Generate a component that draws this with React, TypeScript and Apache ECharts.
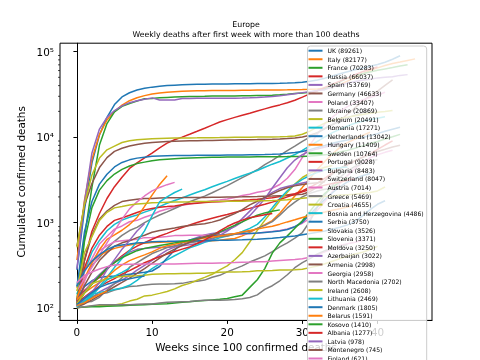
import React, { useEffect, useRef } from 'react';
import * as echarts from 'echarts';

const countryNames = [
  'UK', 'Italy', 'France', 'Russia', 'Spain', 'Germany', 'Poland', 'Ukraine', 'Belgium', 'Romania',
  'Netherlands', 'Hungary', 'Sweden', 'Portugal', 'Bulgaria', 'Switzerland', 'Austria', 'Greece', 'Croatia',
  'Bosnia and Herzegovina', 'Serbia', 'Slovakia', 'Slovenia', 'Moldova', 'Azerbaijan', 'Armenia', 'Georgia',
  'North Macedonia', 'Ireland', 'Lithuania', 'Denmark', 'Belarus', 'Kosovo', 'Albania', 'Latvia', 'Montenegro',
  'Finland', 'Luxembourg', 'Norway', 'Estonia', 'Malta', 'Cyprus',
];

// cumulative deaths, one value per week since the first week with more than 100 deaths
const UK = [281, 1400, 5000, 10600, 17000, 24000, 29500, 33000, 35500, 37200, 38400, 39300, 40000, 40500, 40900, 41200, 41400, 41550, 41650, 41750, 41850, 41950, 42050, 42150, 42250, 42350, 42450, 42600, 42850, 43250, 43900, 44900, 46600, 48900, 51900, 55000, 58000, 61200, 64100, 67400, 70800, 75000, 81400, 89261];
const Italy = [366, 1809, 5476, 10779, 15887, 19899, 23660, 26644, 28884, 30560, 31908, 32785, 33415, 33899, 34345, 34634, 34738, 34861, 34954, 35045, 35107, 35154, 35205, 35234, 35437, 35483, 35541, 35610, 35692, 35818, 35986, 36205, 36543, 37338, 38618, 41063, 45229, 49823, 54904, 60078, 64520, 68799, 72370, 75332, 78755, 82177];
const France = [127, 674, 2606, 8078, 14393, 19718, 22856, 24760, 26380, 28108, 28367, 28802, 29142, 29407, 29640, 29778, 29893, 30004, 30155, 30226, 30296, 30324, 30410, 30503, 30602, 30724, 30916, 31249, 31727, 32299, 32825, 33477, 35018, 37019, 40439, 44548, 48732, 52127, 55155, 57761, 60418, 62746, 65037, 67750, 70283];
const Russia = [106, 361, 794, 1280, 1915, 2631, 3388, 4300, 5000, 5700, 6500, 7500, 8500, 9300, 10000, 10800, 11700, 12700, 13800, 15000, 16000, 17000, 18000, 19000, 20200, 21400, 22600, 23800, 25200, 27000, 29300, 32000, 34850, 38100, 41600, 45100, 49000, 53700, 58000, 62000, 66037];
const Spain = [288, 1720, 6528, 12418, 16972, 20453, 23190, 25264, 26621, 27650, 28752, 27121, 27136, 27136, 28315, 28338, 28385, 28403, 28420, 28432, 28472, 28503, 28617, 28813, 29094, 29418, 29848, 30495, 31232, 32225, 33124, 33992, 35031, 35878, 38833, 40769, 42619, 44668, 46252, 47624, 49260, 50122, 50837, 52683, 53769];
const Germany = [533, 1584, 2871, 4404, 5750, 6812, 7417, 7881, 8216, 8500, 8668, 8781, 8882, 8961, 9010, 9064, 9086, 9118, 9148, 9183, 9226, 9254, 9289, 9325, 9350, 9386, 9457, 9534, 9621, 9777, 10056, 10530, 11289, 12547, 14022, 15586, 18517, 21975, 26275, 30126, 34574, 40343, 46633];
const Poland = [107, 263, 380, 562, 689, 839, 915, 1024, 1064, 1157, 1237, 1359, 1444, 1521, 1594, 1651, 1709, 1744, 1807, 1844, 1893, 1971, 2077, 2152, 2271, 2351, 2524, 2792, 3308, 4172, 5783, 8045, 10847, 14314, 17150, 20089, 22676, 25254, 27147, 28956, 31011, 33407];
const Ukraine = [125, 220, 316, 391, 497, 605, 710, 808, 880, 1002, 1116, 1228, 1338, 1463, 1610, 1753, 1898, 2043, 2237, 2467, 2710, 3016, 3358, 3718, 4150, 4756, 5349, 6108, 6966, 7857, 8912, 9972, 11215, 12680, 14064, 15396, 16790, 18028, 19337, 20869];
const Belgium = [513, 1632, 3600, 5683, 7094, 7844, 8656, 9080, 9312, 9467, 9595, 9661, 9696, 9732, 9771, 9792, 9800, 9821, 9845, 9866, 9899, 9937, 9969, 9976, 9996, 10007, 10031, 10064, 10155, 10327, 10810, 11737, 13201, 14601, 15687, 16551, 17122, 17820, 18429, 19026, 19528, 19987, 20491];
const Romania = [146, 270, 451, 619, 803, 956, 1070, 1156, 1229, 1326, 1419, 1539, 1687, 1817, 1944, 2101, 2269, 2426, 2626, 2834, 3038, 3288, 3541, 3796, 4070, 4436, 4825, 5181, 5693, 6253, 7000, 7893, 8917, 10047, 11267, 12339, 13465, 14510, 15351, 15962, 16642, 17271];
const Netherlands = [179, 771, 1766, 2823, 3684, 4475, 5056, 5422, 5680, 5830, 5956, 6013, 6065, 6090, 6105, 6113, 6132, 6145, 6147, 6149, 6164, 6174, 6196, 6216, 6232, 6262, 6297, 6362, 6466, 6602, 6798, 7139, 7577, 7994, 8485, 8893, 9235, 9595, 9939, 10395, 10989, 11687, 12360, 13042];
const Hungary = [172, 291, 351, 413, 462, 500, 526, 548, 565, 575, 585, 591, 595, 596, 596, 597, 600, 605, 613, 621, 641, 652, 700, 769, 858, 950, 1058, 1290, 1635, 2051, 2583, 3287, 4201, 5213, 6336, 7586, 8634, 9496, 10479, 11409];
const Sweden = [110, 600, 1500, 2400, 3100, 3700, 4200, 4600, 4900, 5100, 5300, 5420, 5520, 5600, 5660, 5710, 5750, 5780, 5800, 5820, 5835, 5850, 5860, 5870, 5880, 5890, 5900, 5910, 5920, 5935, 5950, 6000, 6080, 6200, 6400, 6700, 7000, 7400, 7900, 8400, 8900, 9500, 10100, 10764];
const Portugal = [119, 295, 504, 714, 903, 1063, 1135, 1218, 1316, 1410, 1465, 1517, 1540, 1568, 1614, 1662, 1689, 1717, 1738, 1756, 1784, 1810, 1827, 1846, 1875, 1912, 1953, 2018, 2101, 2181, 2343, 2590, 2896, 3305, 3824, 4276, 4724, 5278, 5815, 6343, 7196, 8080, 9028];
const Bulgaria = [108, 120, 133, 155, 172, 194, 213, 241, 278, 317, 363, 421, 477, 517, 580, 623, 671, 716, 747, 766, 821, 897, 1019, 1207, 1502, 1899, 2542, 3349, 4380, 5391, 6231, 6867, 7281, 7643, 8038, 8483];
const Switzerland = [120, 359, 715, 1106, 1368, 1589, 1762, 1830, 1881, 1909, 1920, 1938, 1956, 1960, 1962, 1965, 1968, 1969, 1978, 1981, 1989, 1994, 2002, 2011, 2021, 2037, 2048, 2065, 2083, 2112, 2152, 2300, 2600, 3100, 3700, 4300, 4800, 5300, 5800, 6300, 6800, 7200, 7650, 8047];
const Austria = [108, 204, 337, 470, 536, 598, 615, 628, 640, 668, 672, 677, 688, 705, 706, 710, 711, 713, 718, 719, 726, 733, 733, 744, 752, 772, 790, 807, 841, 897, 985, 1125, 1398, 1765, 2300, 2885, 3548, 4314, 5004, 5734, 6222, 6636, 7014];
const Greece = [105, 116, 136, 146, 151, 163, 171, 179, 182, 187, 190, 192, 192, 193, 195, 203, 206, 213, 230, 242, 266, 288, 312, 346, 376, 409, 458, 520, 581, 658, 766, 1035, 1527, 2102, 2743, 3370, 4034, 4540, 4921, 5222, 5469];
const Croatia = [101, 103, 106, 107, 107, 109, 113, 121, 127, 139, 142, 149, 157, 168, 184, 195, 212, 229, 249, 281, 312, 368, 446, 594, 813, 1063, 1379, 1801, 2273, 2821, 3373, 3792, 4136, 4433, 4655];
const Bosnia = [102, 128, 145, 153, 158, 165, 172, 185, 211, 250, 290, 329, 367, 410, 456, 507, 545, 589, 623, 664, 696, 734, 787, 858, 954, 1166, 1490, 1918, 2358, 2808, 3203, 3560, 3866, 4118, 4279, 4386, 4486];
const Serbia = [125, 179, 209, 228, 234, 238, 243, 250, 256, 263, 272, 307, 385, 476, 585, 628, 654, 676, 699, 714, 729, 741, 744, 746, 756, 768, 780, 800, 830, 896, 1010, 1250, 1530, 1877, 2236, 2626, 2990, 3295, 3540, 3750];
const Slovakia = [132, 222, 339, 482, 638, 720, 815, 950, 1150, 1550, 2100, 2800, 3526];
const Slovenia = [102, 103, 104, 104, 105, 106, 107, 108, 109, 110, 111, 112, 113, 115, 117, 119, 121, 123, 125, 127, 130, 136, 142, 175, 215, 290, 440, 580, 700, 860, 1050, 1350, 1750, 2200, 2600, 3000, 3371];
const Moldova = [125, 161, 194, 231, 285, 346, 410, 473, 532, 584, 640, 699, 749, 813, 877, 937, 1003, 1067, 1128, 1186, 1248, 1317, 1388, 1469, 1552, 1637, 1738, 1856, 2002, 2144, 2290, 2446, 2603, 2745, 2874, 2994, 3126, 3250];
const Azerbaijan = [126, 154, 203, 247, 298, 344, 399, 452, 487, 497, 510, 515, 517, 521, 537, 552, 570, 602, 641, 709, 795, 925, 1114, 1364, 1664, 1981, 2259, 2502, 2652, 2769, 2910, 3022];
const Armenia = [113, 183, 264, 360, 443, 530, 581, 613, 668, 711, 772, 807, 838, 866, 899, 925, 950, 972, 1014, 1073, 1173, 1276, 1419, 1614, 1778, 1970, 2173, 2377, 2553, 2690, 2797, 2862, 2934, 2998];
const Georgia = [160, 220, 300, 420, 580, 800, 1100, 1450, 1750, 2050, 2350, 2580, 2780, 2958];
const NorthMacedonia = [103, 118, 120, 134, 163, 193, 226, 301, 340, 386, 435, 471, 512, 537, 557, 581, 603, 623, 659, 683, 698, 732, 765, 795, 858, 929, 1027, 1225, 1485, 1736, 2001, 2197, 2343, 2462, 2554, 2630, 2702];
const Ireland = [158, 444, 687, 1063, 1319, 1488, 1543, 1606, 1650, 1679, 1707, 1714, 1736, 1742, 1746, 1753, 1763, 1763, 1772, 1774, 1777, 1777, 1781, 1792, 1797, 1804, 1810, 1830, 1852, 1885, 1922, 1965, 1990, 2022, 2050, 2099, 2124, 2149, 2200, 2252, 2347, 2608];
const Lithuania = [105, 120, 145, 180, 230, 300, 380, 470, 600, 800, 1200, 1750, 2000, 2250, 2469];
const Denmark = [179, 273, 355, 422, 484, 529, 548, 563, 580, 587, 597, 603, 604, 606, 610, 611, 613, 615, 617, 621, 623, 626, 629, 635, 640, 650, 659, 670, 685, 699, 723, 747, 772, 798, 835, 885, 941, 1036, 1200, 1420, 1640, 1805];
const Belarus = [126, 151, 175, 199, 229, 276, 320, 360, 390, 420, 455, 500, 538, 560, 585, 610, 635, 660, 680, 700, 720, 745, 780, 810, 840, 875, 907, 960, 1020, 1080, 1150, 1210, 1270, 1330, 1395, 1450, 1520, 1591];
const Kosovo = [110, 150, 190, 240, 290, 340, 390, 430, 470, 500, 520, 540, 560, 580, 600, 620, 650, 680, 720, 780, 850, 930, 1020, 1120, 1220, 1300, 1360, 1410];
const Albania = [115, 135, 157, 180, 200, 222, 250, 275, 305, 340, 370, 400, 430, 460, 490, 520, 570, 630, 700, 800, 900, 990, 1070, 1140, 1190, 1240, 1277];
const Latvia = [105, 130, 155, 200, 280, 370, 490, 620, 800, 978];
const Montenegro = [104, 112, 125, 140, 158, 178, 200, 225, 255, 290, 335, 385, 440, 490, 540, 590, 640, 685, 720, 745];
const Finland = [199, 240, 265, 287, 306, 320, 324, 326, 326, 328, 329, 329, 329, 329, 331, 333, 334, 335, 336, 338, 339, 341, 345, 346, 348, 350, 355, 360, 365, 370, 378, 395, 420, 455, 490, 540, 565, 590, 621];
const Luxembourg = [101, 104, 107, 110, 110, 110, 110, 110, 111, 112, 112, 115, 117, 118, 119, 120, 122, 124, 124, 124, 125, 126, 129, 133, 143, 166, 183, 209, 246, 297, 340, 380, 430, 470, 505, 530, 550];
const Norway = [113, 150, 194, 208, 219, 232, 235, 237, 239, 242, 249, 251, 252, 253, 255, 255, 256, 256, 260, 263, 264, 264, 266, 269, 273, 274, 276, 279, 280, 282, 285, 298, 312, 330, 353, 380, 404, 430, 451, 484, 530];
const Estonia = [104, 120, 140, 175, 214, 236, 262, 294];
const Malta = [110, 130, 152, 175, 190, 202, 213, 220, 230, 238];
const Cyprus = [107, 116, 130, 145, 158];

const seriesValues = [
  UK, Italy, France, Russia, Spain, Germany, Poland, Ukraine, Belgium, Romania,
  Netherlands, Hungary, Sweden, Portugal, Bulgaria, Switzerland, Austria, Greece, Croatia,
  Bosnia, Serbia, Slovakia, Slovenia, Moldova, Azerbaijan, Armenia, Georgia,
  NorthMacedonia, Ireland, Lithuania, Denmark, Belarus, Kosovo, Albania, Latvia, Montenegro,
  Finland, Luxembourg, Norway, Estonia, Malta, Cyprus,
];

const palette = ['#1f77b4', '#ff7f0e', '#2ca02c', '#d62728', '#9467bd', '#8c564b', '#e377c2', '#7f7f7f', '#bcbd22', '#17becf'];
const xTickValues = [0, 10, 20, 30, 40];
const yMinorTickValues = [80, 90, 200, 300, 400, 500, 600, 700, 800, 900, 2000, 3000, 4000, 5000, 6000, 7000, 8000, 9000, 20000, 30000, 40000, 50000, 60000, 70000, 80000, 90000];

const FONT = "'DejaVu Sans', sans-serif";

export default function App() {
  const ref = useRef<HTMLDivElement>(null);
  useEffect(() => {
    if (!ref.current) return;
    const chart = echarts.init(ref.current, undefined, { renderer: 'svg' });

    // axis limits with 5% margins (log on y)
    const maxWeek = Math.max(...seriesValues.map((s) => s.length - 1));
    const xMin = -0.05 * maxWeek;
    const xMax = maxWeek * 1.05;
    const all = seriesValues.flat();
    const lmin = Math.log10(Math.min(...all));
    const lmax = Math.log10(Math.max(...all));
    const lspan = lmax - lmin;
    const yMin = Math.pow(10, lmin - 0.05 * lspan);
    const yMax = Math.pow(10, lmax + 0.05 * lspan);

    const labels = countryNames.map((n, i) => `${n} (${seriesValues[i][seriesValues[i].length - 1]})`);
    const sup: Record<number, string> = { 1: '¹', 2: '²', 3: '³', 4: '⁴', 5: '⁵' };

    const lineSeries = seriesValues.map((vals, i) => ({
      name: labels[i],
      type: 'line',
      data: vals.map((v, w) => [w, v]),
      showSymbol: false,
      symbol: 'none',
      silent: true,
      color: palette[i % palette.length],
      lineStyle: { width: 1.5, color: palette[i % palette.length] },
      emphasis: { disabled: true },
    }));

    chart.setOption({
      animation: false,
      grid: { left: 60, right: 48, top: 43.2, bottom: 39.6, show: true, borderColor: '#000', borderWidth: 1 },
      graphic: [
        { type: 'text', x: 246, y: 24, style: { text: 'Europe', font: `7.8px ${FONT}`, fill: '#000', textAlign: 'center', textVerticalAlign: 'middle' } },
        { type: 'text', x: 246, y: 34, style: { text: 'Weekly deaths after first week with more than 100 deaths', font: `7.8px ${FONT}`, fill: '#000', textAlign: 'center', textVerticalAlign: 'middle' } },
      ],
      legend: {
        data: labels,
        orient: 'vertical',
        left: 307.5,
        top: 46,
        height: 900,
        padding: [1.2, 3, 2, 1],
        itemGap: 1.55,
        itemWidth: 14,
        itemHeight: 2,
        icon: 'rect',
        selectedMode: false,
        backgroundColor: 'rgba(255,255,255,0.8)',
        borderColor: '#cccccc',
        borderWidth: 1,
        borderRadius: 3,
        textStyle: { fontSize: 6.1, lineHeight: 7, fontFamily: FONT, color: '#000' },
      },
      xAxis: {
        type: 'value',
        min: xMin,
        max: xMax,
        splitLine: { show: false },
        axisLine: { show: true, onZero: false, lineStyle: { color: '#000', width: 1 } },
        axisTick: { show: true, length: 3.5, lineStyle: { color: '#000' }, customValues: xTickValues },
        axisLabel: { customValues: xTickValues, fontSize: 10.4, color: '#000', fontFamily: FONT, margin: 6.5 },
        name: 'Weeks since 100 confirmed deaths',
        nameLocation: 'middle',
        nameGap: 20.5,
        nameTextStyle: { fontSize: 10.4, color: '#000', fontFamily: FONT },
      },
      yAxis: {
        type: 'log',
        logBase: 10,
        min: yMin,
        max: yMax,
        splitLine: { show: false },
        axisLine: { show: true, lineStyle: { color: '#000', width: 1 } },
        axisTick: { show: true, length: 3.5, lineStyle: { color: '#000' } },
        axisLabel: {
          showMinLabel: false,
          showMaxLabel: false,
          fontSize: 10.4,
          color: '#000',
          fontFamily: FONT,
          margin: 6,
          formatter: (v: number) => {
            const e = Math.round(Math.log10(v));
            return '10' + (sup[e] ?? '');
          },
        },
        name: 'Cumulated confirmed deaths',
        nameLocation: 'middle',
        nameGap: 32,
        nameTextStyle: { fontSize: 10.4, color: '#000', fontFamily: FONT },
      },
      series: [
        ...lineSeries,
        {
          type: 'custom',
          silent: true,
          clip: false,
          z: 5,
          data: yMinorTickValues.map((v) => [xMin, v]),
          renderItem: (params: any, api: any) => {
            const p = api.coord([api.value(0), api.value(1)]);
            const x0 = params.coordSys.x;
            return {
              type: 'line',
              shape: { x1: x0 - 2, y1: p[1], x2: x0, y2: p[1] },
              style: { stroke: '#000', lineWidth: 0.7 },
            };
          },
        },
      ],
    });
    return () => chart.dispose();
  }, []);
  return <div ref={ref} style={{ position: 'fixed', left: 0, top: 0, width: 480, height: 360 }} />;
}
